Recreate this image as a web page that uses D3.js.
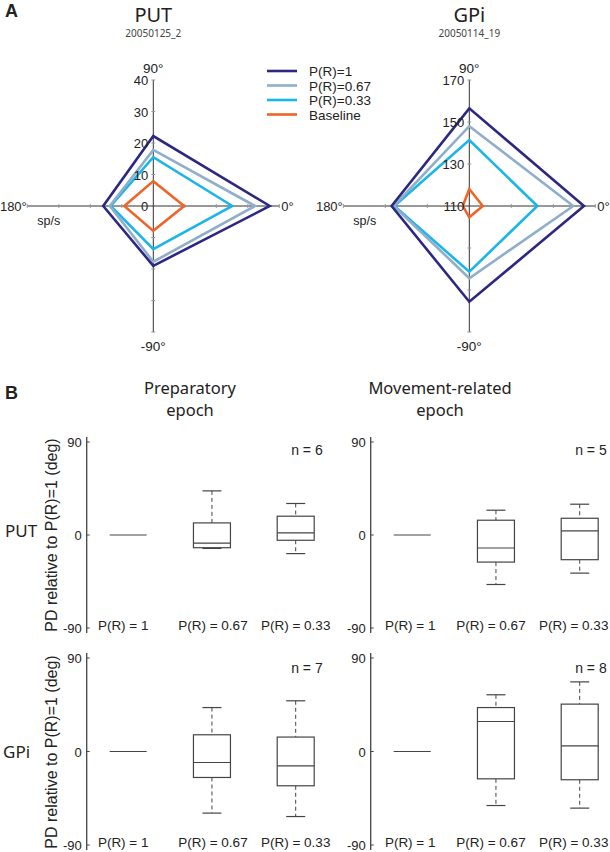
<!DOCTYPE html>
<html><head><meta charset="utf-8">
<script src="https://cdn.jsdelivr.net/npm/d3@7"></script>
<style>body{margin:0;background:#fff}svg{display:block}</style>
</head><body>
<svg id="c" width="610" height="852"></svg>
<script>
// ---------- DATA ----------
const directions = [0, 90, 180, -90]; // degrees
const seriesNames = ["P(R)=1", "P(R)=0.67", "P(R)=0.33", "Baseline"];
const seriesColors = ["#2c2781", "#8eaeca", "#1cb5e9", "#ef6428"];
// PUT rates (sp/s) at 0, 90, 180, -90 deg
const putP1 = [37, 22.2, 15.9, 19];
const putP067 = [32.3, 17.8, 13.8, 17.7];
const putP033 = [25.1, 15.5, 13.5, 13.7];
const putBase = [9.8, 7.9, 9.2, 7.9];
// GPi rates
const gpiP1 = [164.6, 156.5, 147, 155.6];
const gpiP067 = [159.5, 148, 146, 144.4];
const gpiP033 = [142.4, 141.4, 145.7, 141.3];
const gpiBase = [116.4, 118.1, 113.1, 115.4];
const putTicks = [0, 10, 20, 30, 40];
const gpiTicks = [110, 130, 150, 170];

// Box plots: [min, q1, median, q3, max]; P(R)=1 is a flat line at 0
const boxCategories = ["P(R) = 1", "P(R) = 0.67", "P(R) = 0.33"];
const putPrep = [[0,0,0,0,0], [-13, -12.3, -7.8, 11.7, 42.7], [-18, -5.1, 2, 18.2, 30.5]];
const putMove = [[0,0,0,0,0], [-47.9, -26.2, -12.6, 14.3, 24], [-36.9, -23.9, 3.9, 16.2, 29.8]];
const gpiPrep = [[0,0,0,0,0], [-59.3, -25, -10.6, 16.1, 42.3], [-62.6, -33, -13.8, 13.9, 48.8]];
const gpiMove = [[0,0,0,0,0], [-52, -26.3, 28.9, 42.3, 54.6], [-54.5, -27.2, 5.5, 45.6, 67]];
const nCounts = [6, 5, 7, 8];
const boxTicks = [90, 0, -90];

// ---------- DRAW ----------
const svg = d3.select("#c");
const sans = "'Liberation Sans', Arial, sans-serif";
const myriad = "'Noto Sans', 'Open Sans', sans-serif";

function txt(g, x, y, s, size, anchor, fam, weight) {
  return g.append("text").attr("x", x).attr("y", y).text(s)
    .attr("font-size", size).attr("text-anchor", anchor || "start")
    .attr("font-family", fam || sans).attr("font-weight", weight || "normal").attr("fill", "#222");
}

txt(svg, 5, 17, "A", 18, "start", sans, "bold");
txt(svg, 5, 399, "B", 18, "start", sans, "bold");

function polar(cx, cy, domain, ticks, series, title, sub) {
  const R = 126;
  const r = d3.scaleLinear().domain(domain).range([0, R]);
  const g = svg.append("g").attr("transform", `translate(${cx},${cy})`);
  txt(svg, cx, 22, title, 20, "middle", myriad);
  txt(svg, cx, 37, sub, 10, "middle", myriad).attr("fill", "#444");
  // axes
  g.append("line").attr("x1", -R).attr("x2", R).attr("y1", 0).attr("y2", 0).attr("stroke", "#333").attr("stroke-width", 1);
  g.append("line").attr("y1", -R).attr("y2", R).attr("x1", 0).attr("x2", 0).attr("stroke", "#333").attr("stroke-width", 1);
  // tick marks
  ticks.slice(1).forEach(t => {
    const d = r(t);
    [d, -d].forEach(x => g.append("line").attr("x1", x).attr("x2", x).attr("y1", -2).attr("y2", 2).attr("stroke", "#999"));
    [d, -d].forEach(y => g.append("line").attr("y1", y).attr("y2", y).attr("x1", -2).attr("x2", 2).attr("stroke", "#999"));
  });
  // polygons
  const line = d3.lineRadial().angle(d => Math.PI / 2 - d.a * Math.PI / 180).radius(d => r(d.v)).curve(d3.curveLinearClosed);
  series.slice().reverse().forEach((vals, i) => {
    const idx = series.length - 1 - i;
    g.append("path").attr("d", line(vals.map((v, k) => ({a: directions[k], v}))))
      .attr("fill", "none").attr("stroke", seriesColors[idx]).attr("stroke-width", 2.6).attr("stroke-linejoin", "miter");
  });
  // tick labels
  ticks.forEach(t => txt(g, -5, -r(t) + 5, String(t), 13, "end"));
  txt(g, 0, -R - 7, "90°", 13.5, "middle");
  txt(g, 0, R + 19, "-90°", 13.5, "middle");
  txt(g, -R - 0.5, 5, "180°", 13, "end");
  txt(g, R + 2, 5, "0°", 13, "start");
  txt(g, -116, 19, "sp/s", 12.5, "start");
}

polar(153.3, 206, [0, 40], putTicks, [putP1, putP067, putP033, putBase], "PUT", "20050125_2");
polar(469.3, 206, [110, 170], gpiTicks, [gpiP1, gpiP067, gpiP033, gpiBase], "GPi", "20050114_19");

// legend
seriesNames.forEach((n, i) => {
  const y = 71 + i * 14.5;
  svg.append("line").attr("x1", 267).attr("x2", 297).attr("y1", y).attr("y2", y)
    .attr("stroke", seriesColors[i]).attr("stroke-width", 2.6);
  txt(svg, 309, y + 5, n, 13.5, "start");
});

// column titles
[["Preparatory", "epoch", 190], ["Movement-related", "epoch", 440]].forEach(([a, b, x]) => {
  txt(svg, x, 394, a, 16.5, "middle", myriad);
  txt(svg, x, 416, b, 16.5, "middle", myriad);
});

function boxPanel(axisX, yTop, yBot, data, n, labelShift) {
  const y = d3.scaleLinear().domain([-90, 90]).range([yBot, yTop]);
  const x = d3.scalePoint().domain(boxCategories).range([axisX + 41.5, axisX + 209]);
  const g = svg.append("g");
  g.append("line").attr("x1", axisX).attr("x2", axisX).attr("y1", yTop - 5).attr("y2", yBot + 5).attr("stroke", "#444").attr("stroke-width", 1.3);
  boxTicks.forEach(t => {
    g.append("line").attr("x1", axisX).attr("x2", axisX + 3).attr("y1", y(t)).attr("y2", y(t)).attr("stroke", "#444");
    txt(g, axisX - 5, y(t) + 5, String(t), 13, "end");
  });
  const bw = 37, cw = 19;
  data.forEach((d, i) => {
    const cx = x(boxCategories[i]);
    const [mn, q1, md, q3, mx] = d;
    const st = "#444";
    if (i > 0) {
      g.append("line").attr("x1", cx).attr("x2", cx).attr("y1", y(mx)).attr("y2", y(q3)).attr("stroke", st).attr("stroke-dasharray", "4,3");
      g.append("line").attr("x1", cx).attr("x2", cx).attr("y1", y(q1)).attr("y2", y(mn)).attr("stroke", st).attr("stroke-dasharray", "4,3");
      g.append("line").attr("x1", cx - cw / 2).attr("x2", cx + cw / 2).attr("y1", y(mx)).attr("y2", y(mx)).attr("stroke", st).attr("stroke-width", 1.2);
      g.append("line").attr("x1", cx - cw / 2).attr("x2", cx + cw / 2).attr("y1", y(mn)).attr("y2", y(mn)).attr("stroke", st).attr("stroke-width", 1.2);
      g.append("rect").attr("x", cx - bw / 2).attr("y", y(q3)).attr("width", bw).attr("height", y(q1) - y(q3))
        .attr("fill", "none").attr("stroke", st).attr("stroke-width", 1.2);
    }
    g.append("line").attr("x1", cx - bw / 2).attr("x2", cx + bw / 2).attr("y1", y(md)).attr("y2", y(md)).attr("stroke", st).attr("stroke-width", 1.2);
    txt(g, cx + labelShift[i], yBot + 2, boxCategories[i], 13.5, "middle");
  });
  txt(g, axisX + 236, yTop + 13 + (yTop > 600 ? 2 : 0), "n = " + n, 14, "end");
}

const leftShift = [-5, 1, 0], rightShift = [-2, -5, -6];
boxPanel(86.7, 442, 628, putPrep, nCounts[0], leftShift);
boxPanel(370.7, 442, 628, putMove, nCounts[1], rightShift);
boxPanel(86.7, 658, 845, gpiPrep, nCounts[2], leftShift);
boxPanel(370.7, 658, 845, gpiMove, nCounts[3], rightShift);

// row labels and y titles
txt(svg, 5, 537, "PUT", 17, "start", myriad);
txt(svg, 3, 758, "GPi", 17, "start", myriad);
[535, 752].forEach(cy => {
  svg.append("text").attr("transform", `translate(57,${cy}) rotate(-90)`).attr("text-anchor", "middle")
    .attr("font-family", sans).attr("font-size", 16).attr("fill", "#222").text("PD relative to P(R)=1 (deg)");
});
</script>
</body></html>
